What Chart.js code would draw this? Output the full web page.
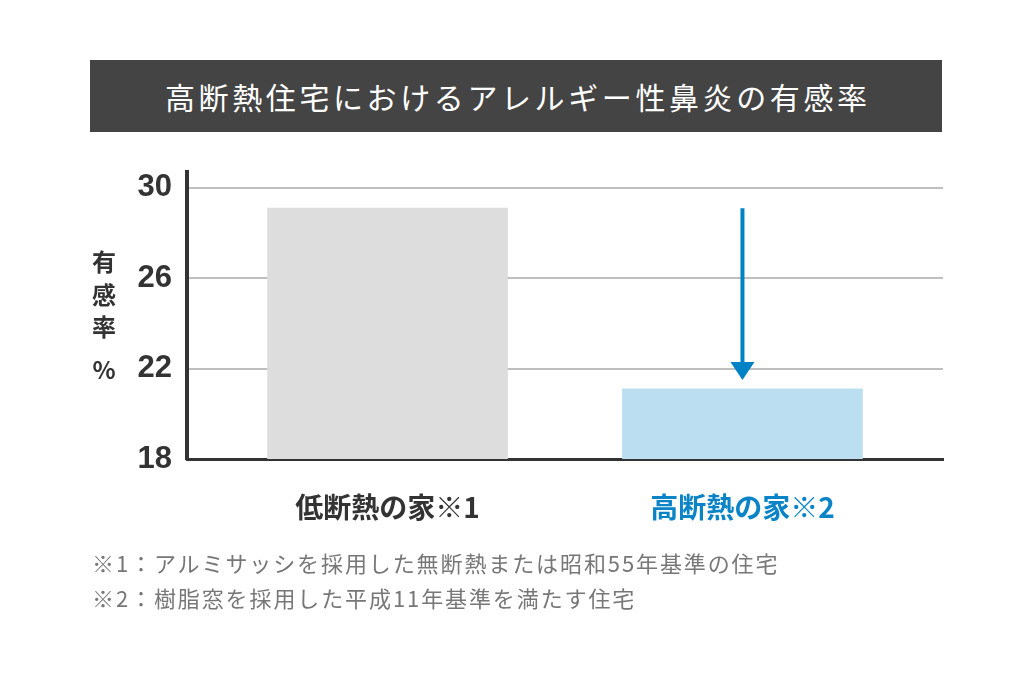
<!DOCTYPE html>
<html lang="ja">
<head>
<meta charset="utf-8">
<script src="https://cdn.jsdelivr.net/npm/chart.js@4"></script>
<style>
  html, body { margin: 0; padding: 0; background: #fff; }
  #wrap { position: relative; width: 1032px; height: 684px; overflow: hidden; font-family: "Noto Sans CJK JP", sans-serif; }
  #banner {
    position: absolute; left: 90px; top: 60px; width: 852px; height: 72px;
    background: #444444; color: #fff; font-size: 30px; letter-spacing: 3.6px;
    line-height: 72px; text-align: center; text-indent: 3.6px;
  }
  #ytitle { position: absolute; left: 88px; top: 0; width: 32px; color: #333; font-weight: bold; font-size: 24px; text-align: center; }
  #ytitle span { position: absolute; left: 0; width: 32px; line-height: 1; }
  .note { position: absolute; left: 92px; color: #777; font-size: 22px; letter-spacing: 1.9px; line-height: 1; white-space: nowrap; }
  #chart { position: absolute; left: 0; top: 0; }
</style>
</head>
<body>
<div id="wrap">
  <canvas id="chart" width="1032" height="684"></canvas>
  <div id="banner">高断熱住宅におけるアレルギー性鼻炎の有感率</div>
  <div id="ytitle">
    <span style="top:249px">有</span>
    <span style="top:282px">感</span>
    <span style="top:314px">率</span>
    <span style="top:357px">%</span>
  </div>
  <div class="note" style="top:551px">※1：アルミサッシを採用した無断熱または昭和55年基準の住宅</div>
  <div class="note" style="top:586px">※2：樹脂窓を採用した平成11年基準を満たす住宅</div>
</div>
<script>
// data
const categories = ['低断熱の家※1', '高断熱の家※2'];
const values = [29.1, 21.1];
const barColors = ['#dddddd', '#bbdff0'];
const labelColors = ['#333333', '#0a84c6'];
const yTicks = [18, 22, 26, 30];

// arrow from the first bar top down to the second bar
const arrowPlugin = {
  id: 'arrow',
  afterDraw(chart) {
    const ctx = chart.ctx;
    const x = chart.scales.x.getPixelForValue(1);
    const y1 = chart.scales.y.getPixelForValue(values[0]);
    const tip = chart.scales.y.getPixelForValue(values[1]) - 9;
    ctx.save();
    ctx.strokeStyle = '#0082c6';
    ctx.fillStyle = '#0082c6';
    ctx.lineWidth = 4;
    ctx.beginPath();
    ctx.moveTo(x, y1);
    ctx.lineTo(x, tip - 12);
    ctx.stroke();
    ctx.beginPath();
    ctx.moveTo(x - 12, tip - 18);
    ctx.lineTo(x + 12, tip - 18);
    ctx.lineTo(x, tip);
    ctx.closePath();
    ctx.fill();
    ctx.restore();
  }
};

new Chart(document.getElementById('chart'), {
  type: 'bar',
  data: {
    datasets: [{
      data: values.map((v, i) => ({ x: i, y: v })),
      backgroundColor: barColors,
      barThickness: 240,
      borderWidth: 0
    }]
  },
  options: {
    responsive: false,
    animation: false,
    events: [],
    layout: { padding: { left: 0, right: 89, top: 172, bottom: 0 } },
    plugins: { legend: { display: false }, tooltip: { enabled: false } },
    scales: {
      x: {
        type: 'linear',
        offset: false,
        bounds: 'data',
        min: -0.565,
        max: 1.565,
        z: 2,
        afterBuildTicks: (scale) => { scale.ticks = categories.map((_, i) => ({ value: i })); },
        afterFit: (scale) => { scale.height = 225; },
        grid: { display: false, offset: false },
        border: { display: true, color: '#333333', width: 3 },
        ticks: {
          padding: 24,
          maxRotation: 0,
          autoSkip: false,
          callback: (v) => categories[v],
          color: (c) => labelColors[c.index],
          font: { family: '"Noto Sans CJK JP", sans-serif', size: 28, weight: 'bold' }
        }
      },
      y: {
        min: 18,
        max: 30.7,
        z: 1,
        afterBuildTicks: (scale) => { scale.ticks = yTicks.map((v) => ({ value: v })); },
        afterFit: (scale) => { scale.width = 187; },
        grid: { color: 'rgba(0,0,0,0.25)', lineWidth: 2, drawTicks: false },
        border: { display: true, color: '#333333', width: 4 },
        ticks: {
          padding: 15,
          color: '#333333',
          font: { family: '"Liberation Sans", sans-serif', size: 31, weight: 'bold' }
        }
      }
    }
  },
  plugins: [arrowPlugin]
});
</script>
</body>
</html>
